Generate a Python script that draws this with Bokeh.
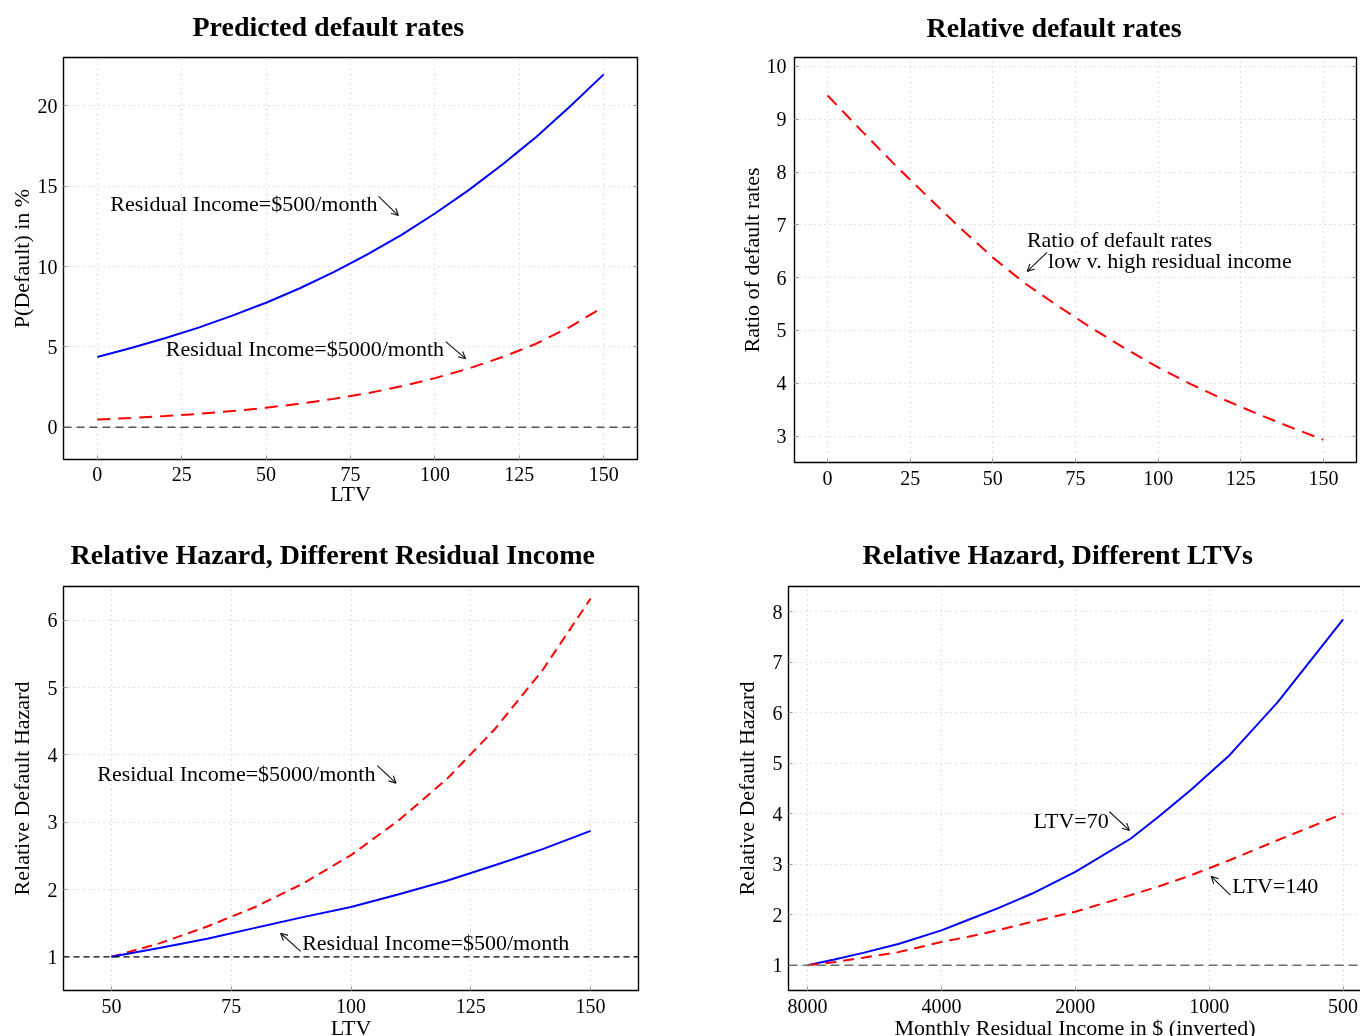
from bokeh.plotting import figure
from bokeh.layouts import column, row
from bokeh.models import (Range1d, FixedTicker, LinearAxis, Label, Span, Arrow,
                          OpenHead, PrintfTickFormatter, Title)
from bokeh.embed import file_html
from bokeh.resources import INLINE

FONT = "Liberation Serif"

# ---------------- data ----------------
# Panel 1: predicted default rates (%) by LTV
ltv_a = [0, 10, 20, 30, 40, 50, 60, 70, 80, 90, 100, 110, 120, 130, 140, 150]
pdef_ri500 = [4.38, 4.93, 5.54, 6.20, 6.95, 7.75, 8.65, 9.65, 10.75, 11.95, 13.30,
              14.75, 16.35, 18.05, 19.95, 21.95]
pdef_ri5000 = [0.48, 0.58, 0.70, 0.84, 1.01, 1.22, 1.47, 1.77, 2.12, 2.55, 3.06,
               3.66, 4.37, 5.20, 6.25, 7.50]
# Panel 2: ratio of default rates
ratio_low_high = [9.45, 8.80, 8.16, 7.55, 6.95, 6.38, 5.88, 5.45, 5.04, 4.66, 4.30,
                  3.98, 3.69, 3.42, 3.17, 2.93]
# Panel 3: relative hazard by LTV
ltv_b = [50, 60, 70, 80, 90, 100, 110, 120, 130, 140, 150]
rel_ri500 = [1.00, 1.13, 1.27, 1.43, 1.59, 1.74, 1.93, 2.13, 2.36, 2.60, 2.87]
rel_ri5000 = [1.00, 1.20, 1.45, 1.74, 2.09, 2.51, 3.03, 3.64, 4.38, 5.26, 6.32]
# Panel 4: relative hazard by residual income
income = [8000, 7000, 6000, 5000, 4000, 3500, 3000, 2500, 2000, 1500, 1300, 1100, 900, 700, 500]
rel_ltv70 = [1.00, 1.11, 1.245, 1.42, 1.69, 1.89, 2.12, 2.42, 2.85, 3.51, 3.94, 4.47, 5.16, 6.22, 7.85]
rel_ltv140 = [1.00, 1.06, 1.15, 1.26, 1.46, 1.56, 1.69, 1.86, 2.06, 2.39, 2.56, 2.78, 3.08, 3.48, 4.00]

# ticks
ticks_ltv_a = [0, 25, 50, 75, 100, 125, 150]
ticks_pdef = [0, 5, 10, 15, 20]
ticks_ratio = [3, 4, 5, 6, 7, 8, 9, 10]
ticks_ltv_b = [50, 75, 100, 125, 150]
ticks_rel_b = [1, 2, 3, 4, 5, 6]
ticks_income = [8000, 4000, 2000, 1000, 500]
ticks_rel_c = [1, 2, 3, 4, 5, 6, 7, 8]

TICK_COLOR = "#9a9a9a"


def style_axis(ax, ticks, label, label_standoff, tick_standoff, label_size="22px"):
    ax.ticker = FixedTicker(ticks=ticks)
    ax.axis_label = label
    ax.axis_label_text_font = FONT
    ax.axis_label_text_font_style = "normal"
    ax.axis_label_text_font_size = label_size
    ax.axis_label_text_color = "black"
    ax.axis_label_standoff = label_standoff
    ax.major_label_text_font = FONT
    ax.major_label_text_font_size = "20px"
    ax.major_label_text_color = "black"
    ax.major_label_standoff = tick_standoff
    ax.axis_line_color = None
    ax.major_tick_in = 4
    ax.major_tick_out = 0
    ax.major_tick_line_color = TICK_COLOR
    ax.minor_tick_line_color = None


def add_right_mirror(p, ticks_y):
    ax = LinearAxis(ticker=FixedTicker(ticks=ticks_y))
    ax.major_label_text_font_size = "1px"
    ax.major_label_text_color = None
    ax.major_label_standoff = 0
    ax.axis_line_color = None
    ax.major_tick_in = 4
    ax.major_tick_out = 0
    ax.major_tick_line_color = TICK_COLOR
    ax.minor_tick_line_color = None
    p.add_layout(ax, "right")


def make_fig(fw, fh, bl, br, bt, bb, x_range, y_range, x_axis_type="linear"):
    p = figure(frame_width=fw, frame_height=fh, min_border_left=bl, min_border_right=br,
               min_border_top=bt, min_border_bottom=bb, x_range=x_range, y_range=y_range,
               x_axis_type=x_axis_type, title_location=None,
               output_backend="svg", toolbar_location=None)
    p.outline_line_color = "black"
    p.outline_line_width = 1.4
    p.background_fill_color = "white"
    p.border_fill_color = "white"
    p.grid.grid_line_color = "#c4c4c4"
    p.grid.grid_line_dash = "1 4"
    p.grid.grid_line_width = 1
    return p


def add_title(p, text, offset, gap):
    # near-invisible spacer (inner) lifts the real title (outer) away from the frame
    p.add_layout(Title(text=".", text_font=FONT, text_font_size="1px", text_color="white",
                       standoff=gap), "above")
    p.add_layout(Title(text=text, text_font=FONT, text_font_style="bold",
                       text_font_size="28px", text_color="black", align="left",
                       offset=offset, standoff=0), "above")


def note(p, x, y, text, align):
    p.add_layout(Label(x=x, y=y, text=text, text_font=FONT, text_font_size="22px",
                       text_color="black", text_align=align, text_baseline="middle"))


def pointer(p, x0, y0, x1, y1):
    p.add_layout(Arrow(end=OpenHead(size=7, line_width=1.1, line_color="#111111"),
                       x_start=x0, y_start=y0, x_end=x1, y_end=y1,
                       line_width=1.1, line_color="#111111"))


# ---------------- Panel 1 ----------------
p1 = make_fig(574, 402, 58, 43, 46, 64, Range1d(-10, 160), Range1d(-2, 23))
style_axis(p1.xaxis[0], ticks_ltv_a, "LTV", -3, 7)
style_axis(p1.yaxis[0], ticks_pdef, "P(Default) in %", 1, 6)
p1.xgrid.ticker = FixedTicker(ticks=ticks_ltv_a)
p1.ygrid.ticker = FixedTicker(ticks=ticks_pdef)
add_title(p1, "Predicted default rates", 129, 13)
add_right_mirror(p1, ticks_pdef)
p1.add_layout(Span(location=0, dimension="width", line_color="#555555",
                   line_dash="8 5", line_width=1.5))
p1.line(ltv_a, pdef_ri500, line_color="#0000ff", line_width=2)
p1.line(ltv_a, pdef_ri5000, line_color="#ff0000", line_width=2, line_dash="13 8")
note(p1, 83.0, 13.92, "Residual Income=$500/month", "right")
pointer(p1, 83.3, 14.36, 89.2, 13.17)
note(p1, 102.7, 4.9, "Residual Income=$5000/month", "right")
pointer(p1, 103.2, 5.33, 109.1, 4.27)

# ---------------- Panel 2 ----------------
p2 = make_fig(562, 405, 114, 3, 45, 62, Range1d(-10, 160), Range1d(2.5, 10.17))
style_axis(p2.xaxis[0], ticks_ltv_a, "", 0, 8)
style_axis(p2.yaxis[0], ticks_ratio, "Ratio of default rates", 0, 8)
p2.xgrid.ticker = FixedTicker(ticks=ticks_ltv_a)
p2.ygrid.ticker = FixedTicker(ticks=ticks_ratio)
add_title(p2, "Relative default rates", 132, 12)
add_right_mirror(p2, ticks_ratio)
p2.line(ltv_a, ratio_low_high, line_color="#ff0000", line_width=2, line_dash="13 8")
note(p2, 60.3, 6.73, "Ratio of default rates", "left")
note(p2, 66.7, 6.32, "low v. high residual income", "left")
pointer(p2, 66.4, 6.48, 60.4, 6.12)

# ---------------- Panel 3 ----------------
p3 = make_fig(575, 404, 58, 42, 63, 49, Range1d(40, 160), Range1d(0.5, 6.5))
style_axis(p3.xaxis[0], ticks_ltv_b, "LTV", -1, 8)
style_axis(p3.yaxis[0], ticks_rel_b, "Relative Default Hazard", 11, 6)
p3.xgrid.ticker = FixedTicker(ticks=ticks_ltv_b)
p3.ygrid.ticker = FixedTicker(ticks=ticks_rel_b)
add_title(p3, "Relative Hazard, Different Residual Income", 7, 14)
add_right_mirror(p3, ticks_rel_b)
p3.add_layout(Span(location=1, dimension="width", line_color="#000000",
                   line_dash="6 4", line_width=1.2))
p3.line(ltv_b, rel_ri5000, line_color="#ff0000", line_width=2, line_dash="10 6")
p3.line(ltv_b, rel_ri500, line_color="#0000ff", line_width=2)
note(p3, 105.1, 3.72, "Residual Income=$5000/month", "right")
pointer(p3, 105.5, 3.84, 109.4, 3.58)
note(p3, 89.8, 1.22, "Residual Income=$500/month", "left")
pointer(p3, 89.5, 1.08, 85.3, 1.35)

# ---------------- Panel 4 ----------------
p4 = make_fig(573, 404, 108, 1, 63, 49, Range1d(8827, 454.6), Range1d(0.5, 8.5),
              x_axis_type="log")
style_axis(p4.xaxis[0], ticks_income, "Monthly Residual Income in $ (inverted)", -1, 8)
p4.xaxis[0].formatter = PrintfTickFormatter(format="%d")
style_axis(p4.yaxis[0], ticks_rel_c, "Relative Default Hazard", 11, 6)
p4.xgrid.ticker = FixedTicker(ticks=ticks_income)
p4.ygrid.ticker = FixedTicker(ticks=ticks_rel_c)
add_title(p4, "Relative Hazard, Different LTVs", 74, 14)
p4.add_layout(Span(location=1, dimension="width", line_color="#6e6e6e",
                   line_dash="9 5", line_width=1.5))
p4.line(income, rel_ltv70, line_color="#0000ff", line_width=2)
p4.line(income, rel_ltv140, line_color="#ff0000", line_width=2, line_dash="11 7")
note(p4, 1682, 3.87, "LTV=70", "right")
pointer(p4, 1676, 4.04, 1511, 3.67)
note(p4, 888, 2.58, "LTV=140", "left")
pointer(p4, 896, 2.39, 990, 2.76)

layout = column(row(p1, p2), row(p3, p4),
                styles={"position": "fixed", "top": "8px", "left": "5px"})
open("out.html", "w").write(file_html(layout, INLINE))
